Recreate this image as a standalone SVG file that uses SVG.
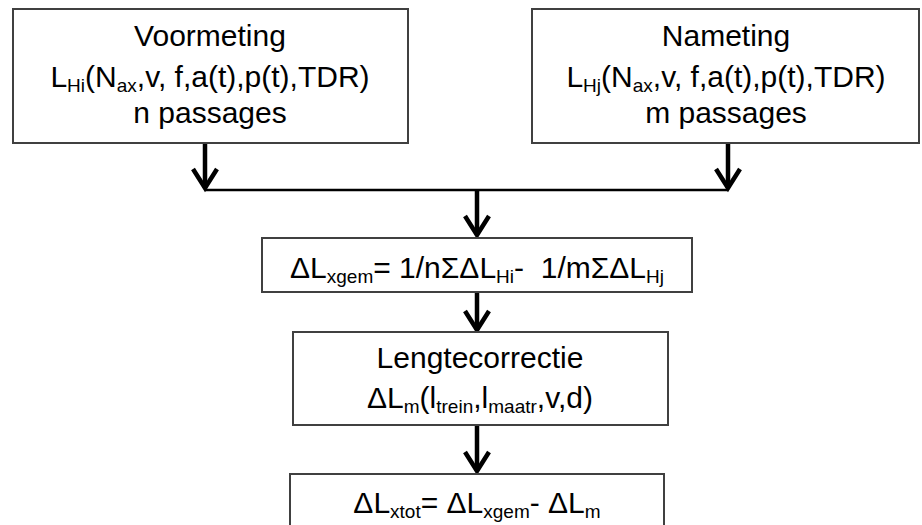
<svg xmlns="http://www.w3.org/2000/svg" width="922" height="525" viewBox="0 0 922 525">
<defs>
<style>
.box{fill:#fff;stroke:#404040;stroke-width:2}
.t{font-family:"Liberation Sans",Arial,sans-serif;font-size:30px;fill:#000;text-anchor:middle}
.s{font-size:19px}
.c{fill:none;stroke:#000;stroke-width:4.5}
.h{fill:none;stroke:#000;stroke-width:2.5}
</style>
<marker id="v" markerUnits="userSpaceOnUse" markerWidth="30" markerHeight="30" refX="27" refY="15" orient="auto" viewBox="0 0 30 30" overflow="visible">
<path d="M8,3 L27,15 L8,27" fill="none" stroke="#000" stroke-width="4.5" stroke-linejoin="miter"/>
</marker>
</defs>
<rect width="922" height="525" fill="#fff"/>
<g id="connectors">
<line class="c" x1="205" y1="143" x2="205" y2="188" marker-end="url(#v)"/>
<line class="c" x1="728" y1="143" x2="728" y2="188" marker-end="url(#v)"/>
<line class="h" x1="205" y1="190" x2="728" y2="190"/>
<line class="c" x1="477" y1="190" x2="477" y2="235" marker-end="url(#v)"/>
<line class="c" x1="477" y1="292" x2="477" y2="330" marker-end="url(#v)"/>
<line class="c" x1="477" y1="425" x2="477" y2="471" marker-end="url(#v)"/>
</g>
<g id="voormeting">
<rect class="box" x="13" y="9" width="395" height="134"/>
<text class="t" x="210" y="46">Voormeting</text>
<text class="t" x="210" y="87">L<tspan class="s" dy="5">Hi</tspan><tspan dy="-5">(N</tspan><tspan class="s" dy="5">ax</tspan><tspan dy="-5">,v, f,a(t),p(t),TDR)</tspan></text>
<text class="t" x="210" y="123">n passages</text>
</g>
<g id="nameting">
<rect class="box" x="532" y="9" width="387" height="134"/>
<text class="t" x="726" y="46">Nameting</text>
<text class="t" x="726" y="87">L<tspan class="s" dy="5">Hj</tspan><tspan dy="-5">(N</tspan><tspan class="s" dy="5">ax</tspan><tspan dy="-5">,v, f,a(t),p(t),TDR)</tspan></text>
<text class="t" x="726" y="123">m passages</text>
</g>
<g id="gemiddelde">
<rect class="box" x="262" y="238" width="430" height="54"/>
<text class="t" x="477" y="278" xml:space="preserve">ΔL<tspan class="s" dy="5">xgem</tspan><tspan dy="-5">= 1/nΣΔL</tspan><tspan class="s" dy="5">Hi</tspan><tspan dy="-5">-  1/mΣΔL</tspan><tspan class="s" dy="5">Hj</tspan></text>
</g>
<g id="lengtecorrectie">
<rect class="box" x="293" y="332" width="375" height="93"/>
<text class="t" x="480" y="368">Lengtecorrectie</text>
<text class="t" x="480" y="408">ΔL<tspan class="s" dy="5">m</tspan><tspan dy="-5">(l</tspan><tspan class="s" dy="5">trein</tspan><tspan dy="-5">,l</tspan><tspan class="s" dy="5">maatr</tspan><tspan dy="-5">,v,d)</tspan></text>
</g>
<g id="totaal">
<rect class="box" x="290" y="474" width="374" height="60"/>
<text class="t" x="477" y="513">ΔL<tspan class="s" dy="5">xtot</tspan><tspan dy="-5">= ΔL</tspan><tspan class="s" dy="5">xgem</tspan><tspan dy="-5">- ΔL</tspan><tspan class="s" dy="5">m</tspan></text>
</g>
</svg>
